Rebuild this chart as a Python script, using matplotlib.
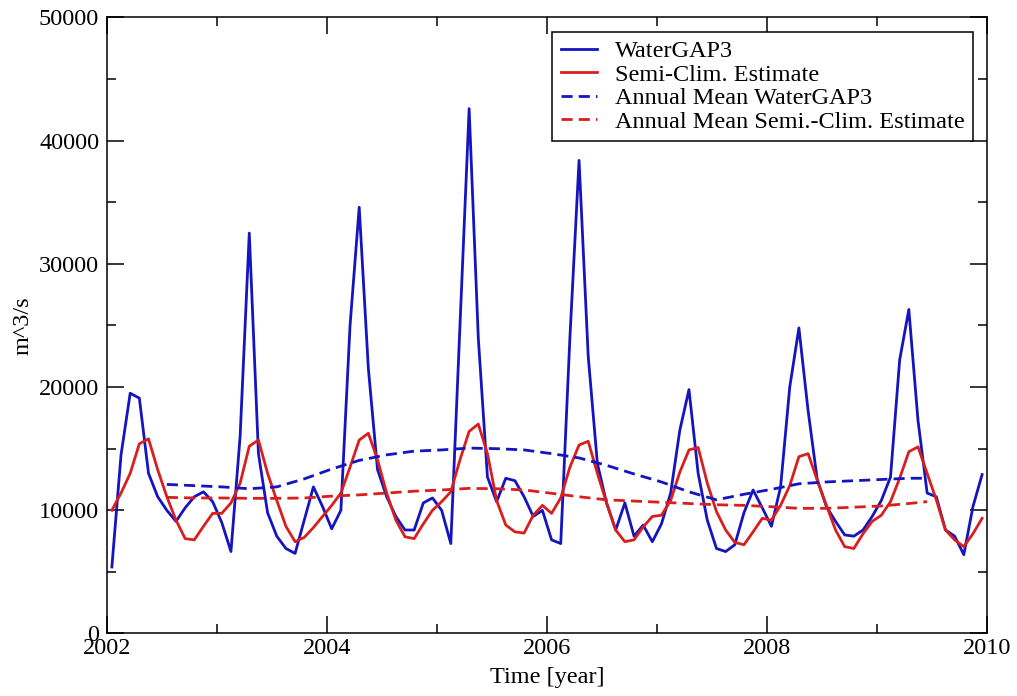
import numpy as np
import matplotlib
matplotlib.use("Agg")
import matplotlib.pyplot as plt
from matplotlib.ticker import MultipleLocator

# Monthly discharge (m^3/s), Jan 2002 - Dec 2009
watergap3 = [
    5400, 14500, 19500, 19100, 13000, 11100, 10000, 9100, 10200, 11100, 11500, 10700,
    9000, 6650, 16000, 32500, 14600, 9800, 7900, 6900, 6500, 9200, 11900, 10300,
    8500, 10000, 25000, 34600, 21500, 13300, 11100, 9500, 8400, 8400, 10600, 11000,
    10000, 7300, 25000, 42600, 24000, 12700, 10700, 12600, 12400, 11100, 9500, 10000,
    7600, 7300, 24000, 38400, 22500, 13800, 10600, 8400, 10600, 7900, 8800, 7450,
    8900, 11400, 16500, 19800, 13000, 9200, 6900, 6650, 7200, 9800, 11650, 10200,
    8700, 11900, 20000, 24800, 18100, 12500, 10300, 9100, 8000, 7900, 8400, 9500,
    10800, 12700, 22200, 26300, 17300, 11400, 11100, 8400, 7900, 6400, 10300, 12900,
]
semi_clim = [
    10000, 11400, 13000, 15400, 15800, 13300, 11100, 9200, 7700, 7600, 8700, 9750,
    9750, 10600, 12200, 15200, 15700, 13000, 10800, 8700, 7450, 7800, 8600, 9500,
    10400, 11400, 13500, 15700, 16250, 14100, 11400, 9200, 7850, 7700, 8900, 10000,
    10700, 11500, 14100, 16400, 17000, 14600, 10800, 8800, 8250, 8150, 9600, 10400,
    9750, 11000, 13500, 15300, 15600, 13000, 10600, 8400, 7450, 7600, 8650, 9500,
    9600, 10800, 13100, 14900, 15100, 12200, 9900, 8400, 7400, 7200, 8250, 9350,
    9200, 10400, 12000, 14350, 14600, 12450, 10400, 8400, 7050, 6900, 8100, 9100,
    9600, 10700, 12600, 14750, 15150, 13000, 10850, 8400, 7600, 7050, 8100, 9350,
]

# Annual (running) means, sampled every 3 months
mean_months = [6, 9, 12, 15, 18, 21, 24, 27, 30, 33, 36, 39, 42, 45, 48,
               51, 54, 57, 60, 63, 66, 69, 72, 75, 78, 81, 84, 87, 89]
mean_watergap3 = [12100, 12000, 11900, 11750, 11900, 12550, 13350, 14050, 14500, 14800,
                  14900, 15050, 15000, 14900, 14600, 14250, 13650, 12950, 12300, 11500,
                  10850, 11300, 11700, 12150, 12300, 12400, 12500, 12600, 12600]
mean_semi_clim = [11050, 11000, 11000, 10970, 10970, 11000, 11150, 11250, 11400, 11550,
                  11650, 11780, 11750, 11650, 11380, 11100, 10850, 10750, 10650, 10550,
                  10450, 10400, 10290, 10160, 10160, 10250, 10350, 10550, 10700]

t = 2002 + (np.arange(len(watergap3)) + 0.5) / 12
t_mean = 2002 + (np.array(mean_months) + 0.5) / 12

blue = '#1414c0'
red = '#d91e1e'

plt.rcParams['font.family'] = ['Liberation Serif', 'DejaVu Serif']
plt.rcParams['font.size'] = 17.5

fig = plt.figure(figsize=(10.17, 6.96), dpi=100)
ax = fig.add_axes([0.1055, 0.0898, 0.8647, 0.8851])

ax.plot(t, watergap3, color=blue, lw=2.0, label='WaterGAP3')
ax.plot(t, semi_clim, color=red, lw=2.0, label='Semi-Clim. Estimate')
ax.plot(t_mean, mean_watergap3, color=blue, lw=2.0, dashes=(4, 2.2),
        label='Annual Mean WaterGAP3')
ax.plot(t_mean, mean_semi_clim, color=red, lw=2.0, dashes=(4, 2.2),
        label='Annual Mean Semi.-Clim. Estimate')

ax.set_xlim(2002, 2010)
ax.set_ylim(0, 50000)
ax.xaxis.set_major_locator(MultipleLocator(2))
ax.xaxis.set_minor_locator(MultipleLocator(1))
ax.yaxis.set_major_locator(MultipleLocator(10000))
ax.yaxis.set_minor_locator(MultipleLocator(5000))
ax.tick_params(which='both', direction='in', top=True, right=True, width=1.1)
ax.tick_params(which='major', length=12.5)
ax.tick_params(which='minor', length=6.5)
ax.tick_params(axis='x', which='both', pad=3)
ax.tick_params(axis='y', which='both', pad=5.8)
for s in ax.spines.values():
    s.set_linewidth(1.1)

ax.set_xlabel('Time [year]', labelpad=6)
ax.set_ylabel('m^3/s', labelpad=4)

leg = ax.legend(loc='upper right', bbox_to_anchor=(0.957, 0.9545),
                bbox_transform=fig.transFigure, fancybox=False, framealpha=1,
                edgecolor='black', handlelength=1.5, handletextpad=0.74,
                borderpad=0.35, labelspacing=0.06, borderaxespad=0)
leg.get_frame().set_linewidth(1.1)

fig.savefig('out.png', dpi=100)
